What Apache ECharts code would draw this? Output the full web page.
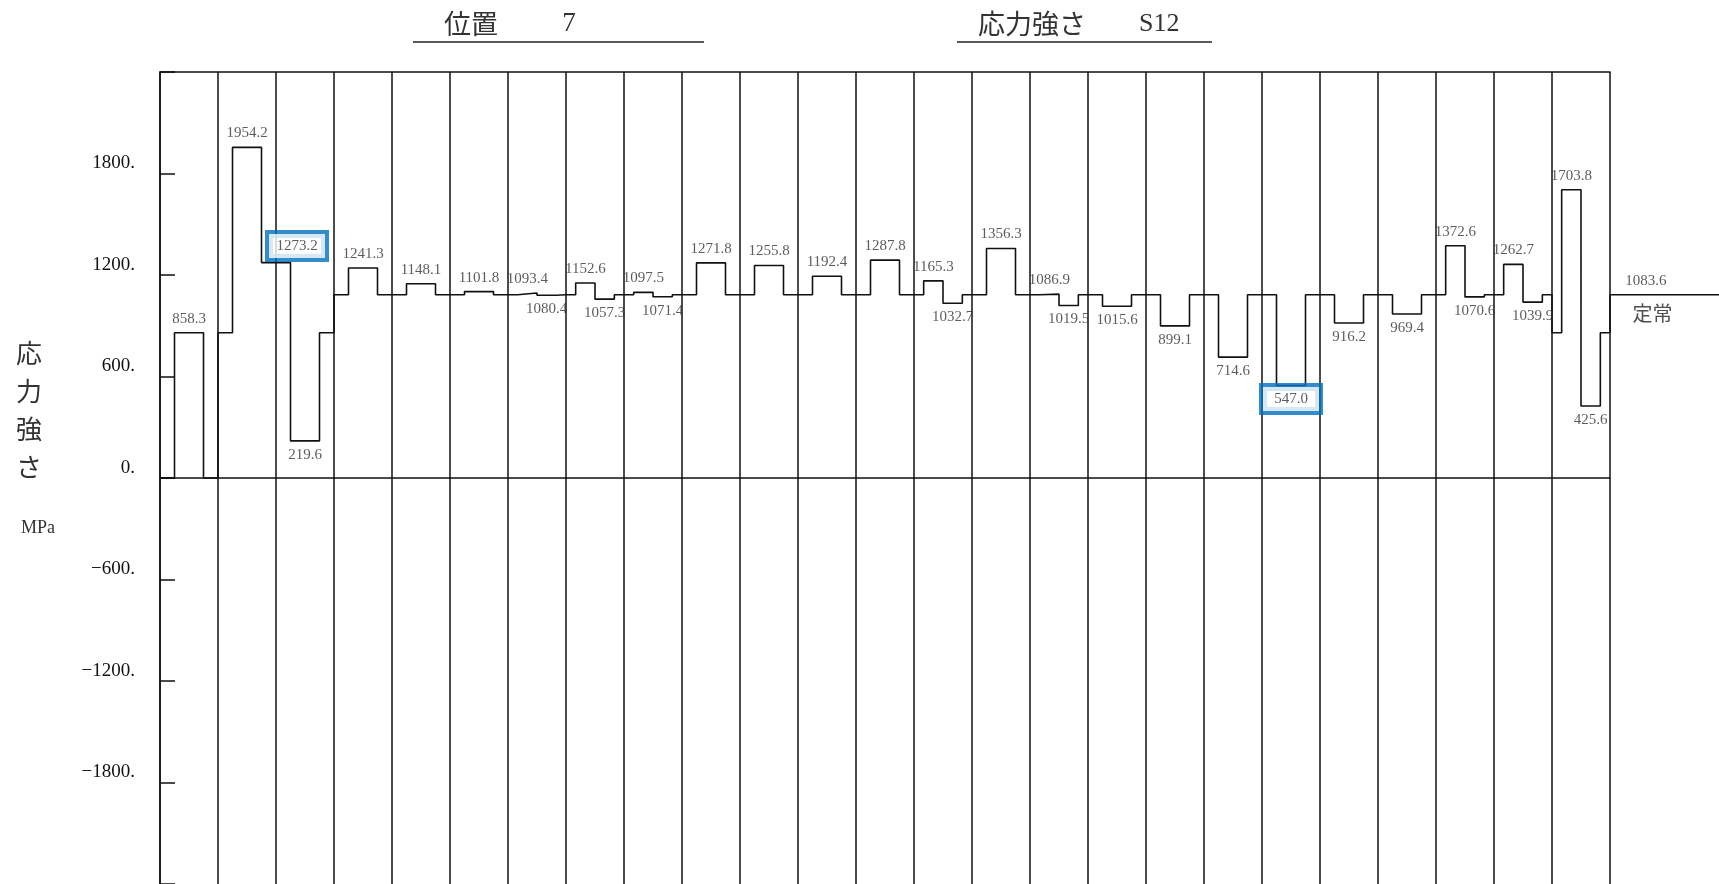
<!DOCTYPE html>
<html>
<head>
<meta charset="utf-8">
<title>応力強さ S12</title>
<script src="https://cdn.jsdelivr.net/npm/echarts@6/dist/echarts.min.js"></script>
<style>
html, body { margin: 0; padding: 0; background: #fff; }
#stress-chart { width: 1719px; height: 884px; }
</style>
</head>
<body>
<div id="stress-chart"></div>
<script>
// steady state level, drawn to the right of the frame
const steadyStress = 1083.6;

// level at the start / end of every transient column
const entryLevel = [0, 858.3, 1273.2,
  1083.6, 1083.6, 1083.6, 1083.6, 1083.6, 1083.6, 1083.6, 1083.6, 1083.6, 1083.6, 1083.6,
  1083.6, 1083.6, 1083.6, 1083.6, 1083.6, 1083.6, 1083.6, 1083.6, 1083.6, 1083.6,
  858.3];
const exitLevel = [0, 1273.2, 858.3,
  1083.6, 1083.6, 1083.6, 1083.6, 1083.6, 1083.6, 1083.6, 1083.6, 1083.6, 1083.6, 1083.6,
  1083.6, 1083.6, 1083.6, 1083.6, 1083.6, 1083.6, 1083.6, 1083.6, 1083.6, 1083.6,
  858.3];

// first and (optional) second stress value inside every column
const peakStress = [858.3, 1954.2, 219.6, 1241.3, 1148.1, 1101.8, 1093.4, 1152.6, 1097.5,
  1271.8, 1255.8, 1192.4, 1287.8, 1165.3, 1356.3, 1086.9, 1015.6, 899.1, 714.6, 547.0,
  916.2, 969.4, 1372.6, 1262.7, 1703.8];
const secondStress = [null, null, null, null, null, null, 1080.4, 1057.3, 1071.4,
  null, null, null, null, 1032.7, null, 1019.5, null, null, null, null,
  null, null, 1070.6, 1039.9, 425.6];

// values shown in a blue box
const boxedValues = [1273.2, 547.0];

const yTicks = [-1800, -1200, -600, 0, 600, 1200, 1800];

const serif = '"Liberation Serif", "DejaVu Serif", serif';
const cjk = '"Noto Sans CJK JP", sans-serif';
const ink = '#111';

function buildStepLine() {
  const pts = [];
  for (let i = 0; i < peakStress.length; i++) {
    const levels = secondStress[i] == null
      ? [entryLevel[i], peakStress[i], exitLevel[i]]
      : [entryLevel[i], peakStress[i], secondStress[i], exitLevel[i]];
    const widths = levels.length === 3 ? [1 / 4, 1 / 2, 1 / 4] : [1 / 6, 1 / 3, 1 / 3, 1 / 6];
    let x = i;
    levels.forEach((v, k) => {
      pts.push([x, v]);
      x += widths[k];
      pts.push([x, v]);
    });
  }
  // back to steady on the right frame edge
  pts.push([peakStress.length, steadyStress]);
  return pts;
}

function labelItem(x, v, above, offset) {
  const boxed = boxedValues.includes(v);
  const label = {
    position: above ? 'top' : 'bottom',
    distance: boxed ? (above ? 4 : 1) : 6,
    offset: offset || [0, 0],
    formatter: v.toFixed(1)
  };
  if (boxed) {
    Object.assign(label, {
      backgroundColor: '#fff',
      borderColor: '#0070C0',
      borderWidth: 4,
      width: 50,
      lineHeight: 16,
      align: 'center',
      padding: [4, 3, 4, 3]
    });
  }
  return { value: [x, v], label: label };
}

function buildLabels() {
  const items = [];
  const n = peakStress.length;
  for (let i = 0; i < n; i++) {
    const twoStep = secondStress[i] != null;
    items.push(labelItem(twoStep ? i + 1 / 3 : i + 0.5, peakStress[i], peakStress[i] > entryLevel[i]));
    if (twoStep) {
      items.push(labelItem(i + 2 / 3, secondStress[i], secondStress[i] > peakStress[i]));
    }
    // level that runs across a column line
    if (i + 1 < n && exitLevel[i] === entryLevel[i + 1] && boxedValues.includes(exitLevel[i])) {
      items.push(labelItem(i + 1, exitLevel[i], true, [21, 0]));
    }
  }
  return items;
}

const options = {
  backgroundColor: '#fff',
  animation: false,
  grid: [
    { left: 160, right: 109, top: 72, bottom: 0 },
    // strip right of the frame for the steady level
    { left: 1610, right: 0, top: 72, bottom: 0 }
  ],
  xAxis: [
    {
      type: 'value',
      min: 0,
      max: peakStress.length,
      interval: 1,
      axisLine: { show: true, onZero: true, lineStyle: { color: ink, width: 1.5 } },
      axisTick: { show: false },
      axisLabel: { show: false },
      splitLine: { show: true, lineStyle: { color: ink, width: 1.5 } }
    },
    {
      type: 'value',
      position: 'top',
      min: 0,
      max: peakStress.length,
      axisLine: { show: true, lineStyle: { color: ink, width: 1.5 } },
      axisTick: { show: false },
      axisLabel: { show: false },
      splitLine: { show: false }
    },
    {
      type: 'value',
      gridIndex: 1,
      min: 0,
      max: 1,
      show: false
    }
  ],
  yAxis: [
    {
      type: 'value',
      min: -2400,
      max: 2400,
      interval: 600,
      axisLine: { show: true, lineStyle: { color: ink, width: 1.5 } },
      axisTick: { show: true, inside: true, length: 15, lineStyle: { color: ink, width: 1.5 } },
      axisLabel: {
        margin: 25,
        fontFamily: serif,
        fontSize: 19,
        color: '#111',
        verticalAlign: 'bottom',
        lineHeight: 20,
        formatter: v => (yTicks.includes(v) ? String(v).replace('-', '\u2212') + '.' : '')
      },
      splitLine: { show: false }
    },
    {
      type: 'value',
      gridIndex: 1,
      min: -2400,
      max: 2400,
      show: false
    }
  ],
  graphic: [
    { type: 'text', x: 444, y: 24, style: { text: '位置', font: '27px ' + cjk, fill: '#333', verticalAlign: 'middle' } },
    { type: 'text', x: 569, y: 24, style: { text: '7', font: '27px ' + serif, fill: '#333', align: 'center', verticalAlign: 'middle' } },
    { type: 'line', shape: { x1: 413, y1: 42, x2: 704, y2: 42 }, style: { stroke: '#222', lineWidth: 1.5 } },
    { type: 'text', x: 978, y: 24, style: { text: '応力強さ', font: '27px ' + cjk, fill: '#333', verticalAlign: 'middle' } },
    { type: 'text', x: 1139, y: 24, style: { text: 'S12', font: '26px ' + serif, fill: '#333', verticalAlign: 'middle' } },
    { type: 'line', shape: { x1: 957, y1: 42, x2: 1212, y2: 42 }, style: { stroke: '#222', lineWidth: 1.5 } },
    {
      type: 'text', x: 29, y: 410,
      style: { text: '応\n力\n強\nさ', font: '26px ' + cjk, lineHeight: 38, fill: '#333', align: 'center', verticalAlign: 'middle' }
    },
    { type: 'text', x: 38, y: 528, style: { text: 'MPa', font: '18px ' + serif, fill: '#333', align: 'center', verticalAlign: 'middle' } }
  ],
  series: [
    {
      name: 'stress',
      type: 'line',
      data: buildStepLine(),
      showSymbol: false,
      lineStyle: { color: ink, width: 1.6 },
      z: 3
    },
    {
      name: 'labels',
      type: 'scatter',
      data: buildLabels(),
      symbolSize: 1,
      itemStyle: { color: 'rgba(0,0,0,0)' },
      label: { show: true, fontFamily: serif, fontSize: 15, color: '#333' },
      z: 5
    },
    {
      name: 'steady',
      type: 'line',
      xAxisIndex: 2,
      yAxisIndex: 1,
      data: [[0, steadyStress], [1, steadyStress]],
      showSymbol: false,
      lineStyle: { color: ink, width: 1.6 }
    },
    {
      name: 'steady-note',
      type: 'scatter',
      xAxisIndex: 2,
      yAxisIndex: 1,
      symbolSize: 1,
      itemStyle: { color: 'rgba(0,0,0,0)' },
      data: [
        { value: [0.33, steadyStress], label: { position: 'top', distance: 6, formatter: steadyStress.toFixed(1) } },
        {
          value: [0.39, steadyStress],
          label: { position: 'bottom', distance: 8, formatter: '定常', fontFamily: cjk, fontSize: 20, color: '#222' }
        }
      ],
      label: { show: true, fontFamily: serif, fontSize: 15, color: '#333' },
      z: 5
    }
  ]
};

const chart = echarts.init(document.getElementById('stress-chart'));
chart.setOption(options);
</script>
</body>
</html>
